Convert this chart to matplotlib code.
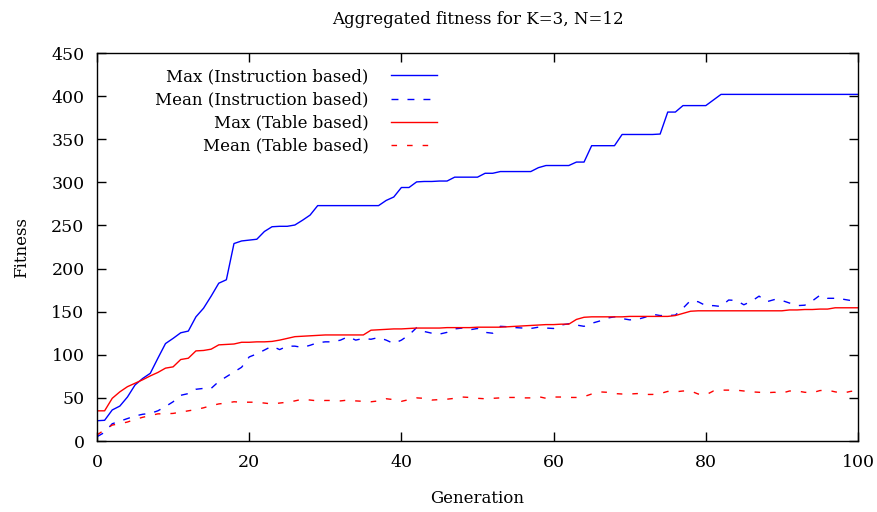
import matplotlib
matplotlib.use('Agg')
import matplotlib.pyplot as plt
import numpy as np

plt.rcParams['font.family'] = ['DejaVu Serif']
plt.rcParams['font.size'] = 12

generation = np.arange(0, 101)

max_instr = [23.5, 24, 36, 40.5, 51, 65, 72.5, 78.5, 96, 113,
             119, 125.5, 127.5, 144, 154, 168, 183, 187, 229, 232,
             233, 234, 243, 248.5, 249, 249, 250.5, 256, 262, 273,
             273, 273, 273, 273, 273, 273, 273, 273, 279, 283,
             294, 294, 300.5, 301, 301, 301.5, 301.5, 306, 306, 306,
             306, 310.5, 310.5, 312.5, 312.5, 312.5, 312.5, 312.5, 317, 319.5,
             319.5, 319.5, 319.5, 323.5, 323.5, 342.5, 342.5, 342.5, 342.5, 355.5,
             355.5, 355.5, 355.5, 355.5, 356, 381.5, 381.5, 389, 389, 389,
             389, 395.5, 402, 402, 402, 402, 402, 402, 402, 402,
             402, 402, 402, 402, 402, 402, 402, 402, 402, 402,
             402]

mean_instr = [5, 10, 20, 23, 26, 29, 31, 32, 35, 40,
              45.5, 53, 55, 60, 61, 61, 69, 74.5, 80, 85.5,
              97.5, 101, 105.5, 110, 106, 110, 110, 108.5, 111, 114,
              115, 115, 117, 121, 117, 119, 118, 120, 117, 113,
              117, 123, 131.5, 127, 125, 124, 126, 130, 131, 129,
              130.5, 126, 125, 133, 132.5, 131.5, 131, 130.5, 132, 131,
              130.5, 134.5, 136, 134.5, 133, 136.5, 139, 142.5, 144, 142,
              140.5, 141, 143.5, 147, 145.5, 145.5, 146, 154, 163, 161.5,
              157, 157, 156, 163.5, 163, 158, 162, 168, 161.5, 164,
              163, 160, 157, 157.5, 162.5, 169, 165.5, 165.5, 164.5, 163,
              162]

max_table = [35, 35, 49.5, 57, 63, 67, 71, 75.5, 79.5, 84.5,
             86, 94.5, 96, 104.5, 105, 106.5, 111.5, 112, 112.5, 114.5,
             114.5, 115, 115, 115.5, 117, 119, 121, 121.5, 122, 122.5,
             123, 123, 123, 123, 123, 123, 128.5, 129, 129.5, 130,
             130, 130.5, 131, 131, 131, 131, 131.5, 131.5, 131.5, 131.5,
             132, 132, 132, 132, 132.5, 133, 133.5, 134, 134.5, 135,
             135, 135.5, 135.5, 141, 143.5, 144, 144, 144, 144, 144,
             144.5, 144.5, 144.5, 144.5, 144.5, 144.5, 145.5, 148, 150.5, 151,
             151, 151, 151, 151, 151, 151, 151, 151, 151, 151,
             151, 152, 152, 152.5, 152.5, 153, 153, 154.5, 154.5, 154.5,
             154.5]

mean_table = [7, 13, 18.5, 20, 22, 25, 27.5, 29.5, 31.5, 31.5,
              32, 33.5, 35, 36.5, 38.5, 41, 43, 44, 45.5, 45,
              45, 45, 44, 43, 44, 45, 46.5, 48.5, 47.5, 46.5,
              47, 47, 46.5, 47.5, 46.5, 46, 45.5, 46.5, 49, 48,
              46, 48, 50, 49.5, 47.5, 48, 48.5, 49.5, 51, 50.5,
              49.5, 49, 49.5, 50, 50.5, 50.5, 50, 50, 51.5, 49.5,
              51, 51, 50.5, 50.5, 51.5, 54.5, 57, 56.5, 55, 54.5,
              54.5, 55, 54, 54, 55, 57.5, 57, 58, 58, 54.5,
              53.5, 58, 59, 59, 59, 58, 57, 56.5, 56, 56.5,
              55.5, 58, 58, 56.5, 56, 58.5, 59, 57, 55.5, 57.5,
              58.5]

fig = plt.figure(figsize=(8.78, 5.12), dpi=100)
ax = fig.add_axes([97/878, 1-441/512, 761/878, 388/512])

ax.plot(generation, max_instr, color='#0000ff', lw=1.0, label='Max (Instruction based)')
ax.plot(generation, mean_instr, color='#0000ff', lw=1.0, dashes=(5, 6.5), label='Mean (Instruction based)')
ax.plot(generation, max_table, color='#ff0000', lw=1.0, label='Max (Table based)')
ax.plot(generation, mean_table, color='#ff0000', lw=1.0, dashes=(4, 7.2), label='Mean (Table based)')

ax.set_xlim(0, 100)
ax.set_ylim(0, 450)
ax.set_xticks(range(0, 101, 20))
ax.set_yticks(range(0, 451, 50))
ax.tick_params(direction='in', top=True, right=True, length=6.5, width=1, labelsize=12.5)
ax.tick_params(axis='x', pad=9.5)
ax.tick_params(axis='y', pad=9)
for s in ax.spines.values():
    s.set_linewidth(1.0)

ax.set_xlabel('Generation', labelpad=13.5)
ax.set_ylabel('Fitness', labelpad=15)
ax.set_title('Aggregated fitness for K=3, N=12', fontsize=12, pad=21)

ax.legend(loc='upper right', bbox_to_anchor=(0.458, 0.982), frameon=False,
          markerfirst=False, borderpad=0, handlelength=2.75, handletextpad=1.35,
          labelspacing=0.37)

plt.savefig('out.png', dpi=100)
